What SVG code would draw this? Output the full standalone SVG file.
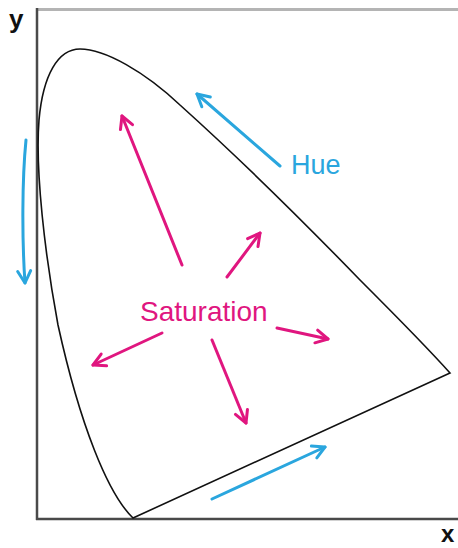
<svg xmlns="http://www.w3.org/2000/svg" width="458" height="548" viewBox="0 0 458 548">
<style>
.pk{stroke:#e0167f;stroke-width:3;fill:none;stroke-linecap:round}
.bl{stroke:#2aa6de;stroke-width:3;fill:none;stroke-linecap:round}
.lbl{font-family:"Liberation Sans",Arial,sans-serif}
</style>
<defs>
<marker id="mp" viewBox="0 0 16 16" refX="14" refY="8" markerWidth="16" markerHeight="16" markerUnits="userSpaceOnUse" orient="auto" overflow="visible">
<path d="M2,1.5 L14,8 L2,14.5" fill="none" stroke="#e0167f" stroke-width="3" stroke-linecap="round" stroke-linejoin="round"/>
</marker>
<marker id="mb" viewBox="0 0 16 16" refX="14" refY="8" markerWidth="16" markerHeight="16" markerUnits="userSpaceOnUse" orient="auto" overflow="visible">
<path d="M2,1.5 L14,8 L2,14.5" fill="none" stroke="#2aa6de" stroke-width="3" stroke-linecap="round" stroke-linejoin="round"/>
</marker>
</defs>
<rect width="458" height="548" fill="#fff"/>
<g id="axes">
<line x1="36" y1="9.5" x2="458" y2="9.5" stroke="#b4b4b4" stroke-width="3"/>
<line x1="37" y1="8" x2="37" y2="520" stroke="#4a4a4a" stroke-width="2.5"/>
<line x1="36" y1="519" x2="458" y2="519" stroke="#4a4a4a" stroke-width="2.5"/>
<text class="lbl" x="9" y="28" font-size="26" font-weight="bold" fill="#111">y</text>
<text class="lbl" x="441" y="542" font-size="24" font-weight="bold" fill="#111">x</text>
</g>
<g id="gamut">
<path d="M450,373 L133,518 C108,494 80,425 58,325 C45,255 35,170 39,120 C43,75 58,49 80,49 C105,49 145,72 180,105 C230,150 300,218 360,280 C395,315 425,345 450,373 Z" fill="none" stroke="#111" stroke-width="1.6"/>
</g>
<g id="connectors">
<line class="pk" x1="182" y1="265" x2="122" y2="116" marker-end="url(#mp)"/>
<line class="pk" x1="227" y1="277" x2="260" y2="233" marker-end="url(#mp)"/>
<line class="pk" x1="277" y1="328" x2="328" y2="339" marker-end="url(#mp)"/>
<line class="pk" x1="162" y1="333" x2="93" y2="365" marker-end="url(#mp)"/>
<line class="pk" x1="212" y1="340" x2="246" y2="423" marker-end="url(#mp)"/>
<line class="bl" x1="280" y1="166" x2="197" y2="94" marker-end="url(#mb)"/>
<path class="bl" d="M26,140 C22,180 22,240 25,283" marker-end="url(#mb)"/>
<line class="bl" x1="212" y1="499" x2="325" y2="447" marker-end="url(#mb)"/>
</g>
<g id="labels">
<text class="lbl" x="291" y="174" font-size="27" fill="#2aa6de">Hue</text>
<text class="lbl" x="140" y="321" font-size="28" fill="#e0167f">Saturation</text>
</g>
</svg>
